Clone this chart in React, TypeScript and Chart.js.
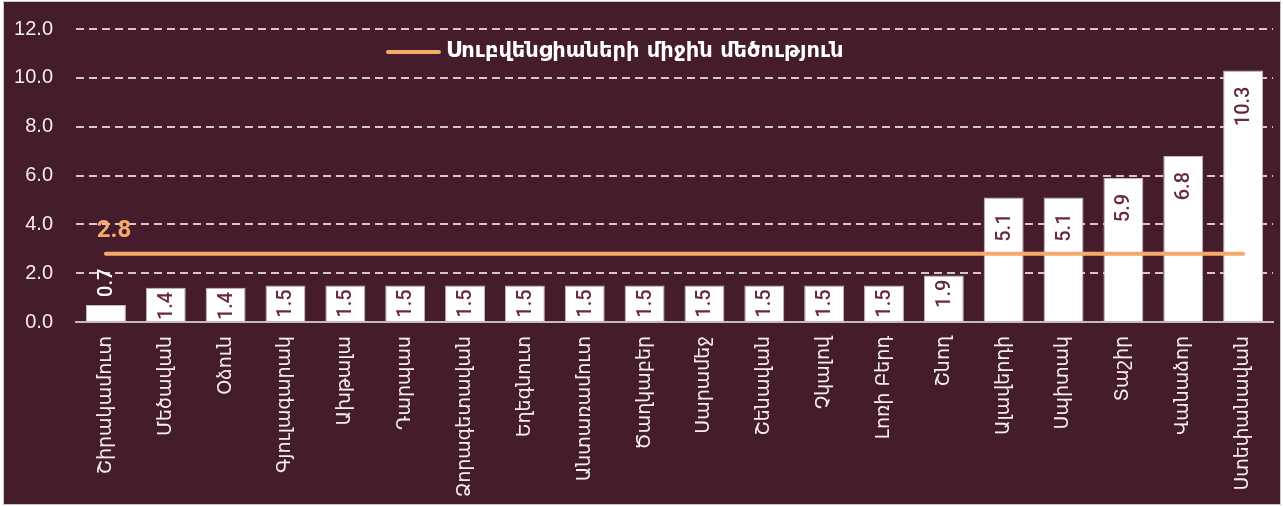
import React, { useEffect, useRef } from "react";
import { Chart, registerables } from "chart.js";

Chart.register(...registerables);

const categories = [
  "Շիրակամուտ",
  "Մեծավան",
  "Օձուն",
  "Գյուլագարակ",
  "Ախթալա",
  "Դարպաս",
  "Ձորագետավան",
  "Եղեգնուտ",
  "Անտառամուտ",
  "Ծաղկաբեր",
  "Սարամեջ",
  "Շենավան",
  "Չկալով",
  "Լոռի Բերդ",
  "Շնող",
  "Ալավերդի",
  "Սպիտակ",
  "Տաշիր",
  "Վանաձոր",
  "Ստեփանավան",
];

const subventionValues = [
  0.7, 1.4, 1.4, 1.5, 1.5, 1.5, 1.5, 1.5, 1.5, 1.5, 1.5, 1.5, 1.5, 1.5, 1.9,
  5.1, 5.1, 5.9, 6.8, 10.3,
];

const averageValue = 2.8;
const averageLabel = "Սուբվենցիաների միջին մեծություն";
const yMin = 0;
const yMax = 12;
const yStep = 2;

const BG = "#451c2b";
const ORANGE = "#f6aa68";
const MAROON_TEXT = "#6a2840";
const WHITE = "#ffffff";

export default function App() {
  const ref = useRef<HTMLCanvasElement | null>(null);

  useEffect(() => {
    document.body.style.margin = "0";
    const canvas = ref.current;
    if (!canvas) return;

    const labelPlugin = {
      id: "valueLabels",
      afterDatasetsDraw(chart: any) {
        const ctx = chart.ctx;
        const barMeta = chart.getDatasetMeta(1);
        ctx.save();
        ctx.font = "500 20px Roboto";
        barMeta.data.forEach((el: any, i: number) => {
          const v = subventionValues[i];
          const txt = v.toFixed(1);
          const w = ctx.measureText(txt).width;
          const barH = el.base - el.y;
          ctx.save();
          ctx.textBaseline = "middle";
          if (barH >= w) {
            const pad = barH >= w + 32 ? 16 : 4;
            ctx.translate(el.x, el.y + pad);
            ctx.rotate(-Math.PI / 2);
            ctx.textAlign = "right";
            ctx.fillStyle = MAROON_TEXT;
          } else {
            ctx.translate(el.x, el.y - 8);
            ctx.rotate(-Math.PI / 2);
            ctx.textAlign = "left";
            ctx.fillStyle = WHITE;
          }
          ctx.fillText(txt, 0, 1);
          ctx.restore();
        });
        const lineMeta = chart.getDatasetMeta(0);
        const p = lineMeta.data[0];
        if (p) {
          ctx.font = "bold 24px Roboto";
          ctx.fillStyle = ORANGE;
          ctx.textAlign = "center";
          ctx.textBaseline = "alphabetic";
          ctx.fillText(averageValue.toFixed(1), p.x + 8, p.y - 17);
        }
        ctx.restore();
      },
      afterDraw(chart: any) {
        const ctx = chart.ctx;
        ctx.save();
        ctx.strokeStyle = ORANGE;
        ctx.lineWidth = 4;
        ctx.lineCap = "round";
        ctx.beginPath();
        ctx.moveTo(384, 50);
        ctx.lineTo(435, 50);
        ctx.stroke();
        ctx.font = "bold 21px 'DejaVu Sans'";
        ctx.fillStyle = WHITE;
        ctx.textAlign = "left";
        ctx.textBaseline = "middle";
        ctx.fillText(chart.data.datasets[0].label, 442, 50);
        ctx.restore();
      },
    };

    const chart = new Chart(canvas, {
      type: "bar",
      data: {
        labels: categories,
        datasets: [
          {
            type: "line",
            label: averageLabel,
            data: categories.map(() => averageValue),
            borderColor: ORANGE,
            backgroundColor: ORANGE,
            borderWidth: 4,
            borderCapStyle: "round",
            pointRadius: 0,
            order: 0,
          } as any,
          {
            type: "bar",
            label: "Սուբվենցիա",
            data: subventionValues,
            backgroundColor: WHITE,
            borderColor: "#c8b4ba",
            borderWidth: 1,
            barPercentage: 0.667,
            categoryPercentage: 1,
            order: 1,
          },
        ],
      },
      options: {
        responsive: false,
        animation: false,
        layout: { padding: { top: 27, right: 4, left: 0, bottom: 0 } },
        plugins: {
          legend: { display: false },
          tooltip: { enabled: false },
        },
        scales: {
          x: {
            grid: { display: false, drawTicks: false },
            border: { display: true, color: "#c9b9be", width: 2 },
            ticks: {
              color: "#f4eef0",
              font: { family: "'DejaVu Sans'", size: 19 },
              minRotation: 90,
              maxRotation: 90,
              autoSkip: false,
              padding: 14,
            },
            afterFit: (scale: any) => {
              scale.height = 182;
              scale.paddingTop = 0;
              scale.paddingBottom = 0;
            },
          },
          y: {
            min: yMin,
            max: yMax,
            grid: {
              drawTicks: false,
              lineWidth: 2,
              color: (c: any) =>
                c.tick && c.tick.value === 0 ? "rgba(0,0,0,0)" : "#d8c5c9",
            },
            border: { display: false, dash: [8, 5] },
            ticks: {
              stepSize: yStep,
              color: "#f4eef0",
              font: { family: "'Liberation Sans'", size: 20 },
              padding: 23,
              callback: (v: any) => Number(v).toFixed(1),
            },
            afterFit: (scale: any) => {
              scale.width = 72;
              scale.paddingTop = 0;
              scale.paddingBottom = 0;
            },
          },
        },
      },
      plugins: [labelPlugin],
    });

    return () => chart.destroy();
  }, []);

  return (
    <div
      style={{
        position: "absolute",
        left: 3,
        top: 1,
        width: 1278,
        height: 504,
        boxSizing: "border-box",
        border: "1px solid #c6c6c6",
        background: BG,
      }}
    >
      <canvas
        ref={ref}
        width={1276}
        height={502}
        style={{ display: "block", width: 1276, height: 502 }}
      />
    </div>
  );
}
